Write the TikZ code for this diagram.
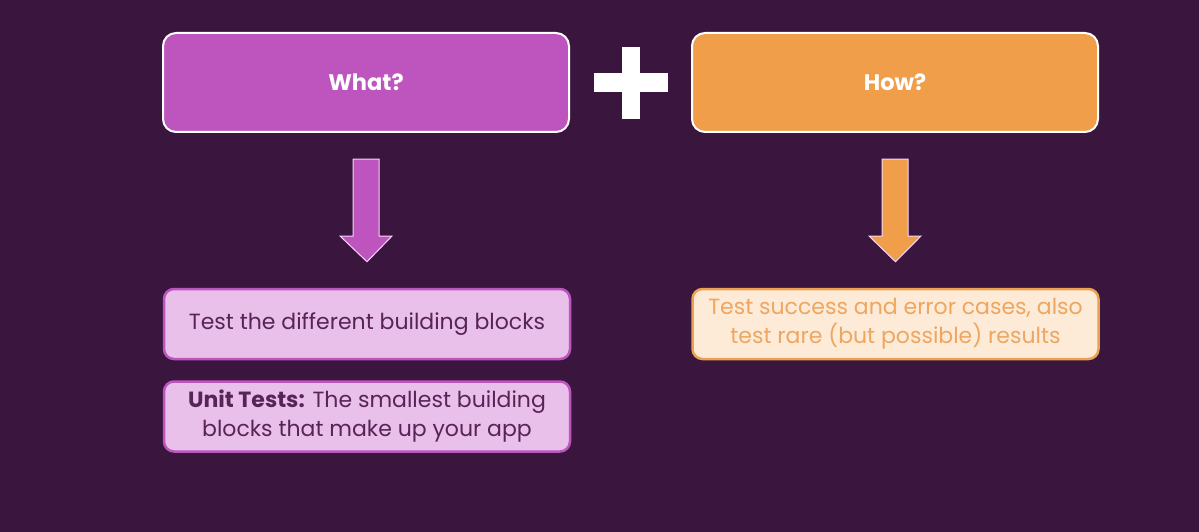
\documentclass[tikz,border=0pt]{standalone}
\usepackage{fontspec}
\setmainfont{Poppins}
\usetikzlibrary{calc}
\definecolor{bgc}{RGB}{58,22,62}
\definecolor{purp}{RGB}{190,85,190}
\definecolor{orng}{RGB}{240,158,74}
\definecolor{pinkfill}{RGB}{232,192,234}
\definecolor{pinktext}{RGB}{88,36,88}
\definecolor{orfill}{RGB}{253,235,216}
\definecolor{orborder}{RGB}{236,160,82}
\definecolor{ortext}{RGB}{238,166,96}
\definecolor{arrowedge}{RGB}{245,215,245}
\begin{document}
\begin{tikzpicture}[x=1pt,y=-1pt,
  headbox/.style={draw=white,line width=2pt,rounded corners=13pt,minimum width=406pt,minimum height=99pt,inner sep=0pt,text=white,font=\fontsize{22.5pt}{27pt}\selectfont\bfseries},
  pinkbox/.style={draw=purp,fill=pinkfill,line width=2.5pt,rounded corners=10pt,minimum width=406pt,minimum height=70pt,inner sep=0pt,text=pinktext,align=center,font=\fontsize{22pt}{29pt}\selectfont},
  orbox/.style={draw=orborder,fill=orfill,line width=2.5pt,rounded corners=10pt,minimum width=406pt,minimum height=70pt,inner sep=0pt,text=ortext,align=center,font=\fontsize{22pt}{29pt}\selectfont},
  blockarrow/.style={line width=1pt,line join=miter}
]
\useasboundingbox (0,0) rectangle (1199,532);
\fill[bgc] (0,0) rectangle (1199,532);

\node[headbox,fill=purp] (what) at (366,82.5) {What?};
\node[headbox,fill=orng] (how) at (895,82.5) {How?};

% plus sign
\node[fill=white,minimum width=18pt,minimum height=72pt,inner sep=0pt] (plusv) at (631,83) {};
\node[fill=white,minimum width=74pt,minimum height=19pt,inner sep=0pt] (plush) at (631,82.5) {};

\node[pinkbox] (blocks) at (367,324) {Test the different building blocks};
\node[pinkbox] (unit) at (367,416.5) {\textbf{Unit Tests:} The smallest building\\blocks that make up your app};
\node[orbox] (cases) at (895.5,324) {Test success and error cases, also\\test rare (but possible) results};

% block arrows
\coordinate (la) at ($(what.south)+(0,26)$);
\coordinate (ra) at ($(how.south)+(0,26)$);
\draw[blockarrow,draw=arrowedge,fill=purp] ($(la)+(-13,0)$) -- ($(la)+(13,0)$) -- ($(la)+(13,77)$) -- ($(la)+(26,77)$) -- ($(blocks.north)+(0,-26)$) -- ($(la)+(-26,77)$) -- ($(la)+(-13,77)$) -- cycle;
\draw[blockarrow,draw=arrowedge,fill=orng] ($(ra)+(-13,0)$) -- ($(ra)+(13,0)$) -- ($(ra)+(13,77)$) -- ($(ra)+(26,77)$) -- ($(cases.north)+(0,-26)$) -- ($(ra)+(-26,77)$) -- ($(ra)+(-13,77)$) -- cycle;
\end{tikzpicture}
\end{document}
